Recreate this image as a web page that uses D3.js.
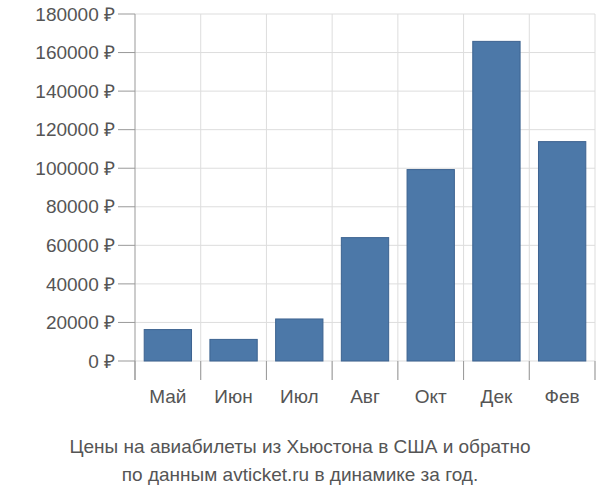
<!DOCTYPE html>
<html><head><meta charset="utf-8">
<script src="https://cdn.jsdelivr.net/npm/d3@7"></script>
<style>body{margin:0;background:#fff}text{font-family:"Liberation Sans",Arial,sans-serif;fill:#555}</style>
</head><body><svg id="c" width="600" height="500"></svg>
<script>
const months = ["Май","Июн","Июл","Авг","Окт","Дек","Фев"];
const prices = [16300, 11200, 21800, 64000, 99300, 165800, 113800];
const yTicks = [0,20000,40000,60000,80000,100000,120000,140000,160000,180000];
const titleLines = ["Цены на авиабилеты из Хьюстона в США и обратно","по данным avticket.ru в динамике за год."];

const svg = d3.select("#c");
const L = 135, R = 595, T = 14, B = 361;
const x = d3.scaleBand().domain(months).range([L, R]).paddingInner(0.28).paddingOuter(0.14);
const y = d3.scaleLinear().domain([0, 180000]).range([B, T]);
const step = x.step(), edges = d3.range(months.length + 1).map(i => L + i * (R - L) / months.length);

// grid
svg.append("g").selectAll("line").data(yTicks).join("line")
  .attr("x1", L).attr("x2", R).attr("y1", d => y(d)).attr("y2", d => y(d))
  .attr("stroke", "#ddd");
svg.append("g").selectAll("line").data(edges).join("line")
  .attr("x1", d => d).attr("x2", d => d).attr("y1", T).attr("y2", 380)
  .attr("stroke", (d, i) => i === 0 ? "#999" : "#ddd");
svg.append("g").selectAll("line").data(edges).join("line")
  .attr("x1", d => d).attr("x2", d => d).attr("y1", B).attr("y2", 380).attr("stroke", "#999");

// y ticks
svg.append("g").selectAll("line").data(yTicks).join("line")
  .attr("x1", 118).attr("x2", L).attr("y1", d => y(d)).attr("y2", d => y(d)).attr("stroke", "#999");
svg.append("g").selectAll("text").data(yTicks).join("text")
  .attr("x", 115).attr("y", d => y(d)).attr("dy", "0.35em").attr("text-anchor", "end")
  .attr("font-size", 19).text(d => d + " ₽");

// bars
svg.append("g").selectAll("rect").data(prices).join("rect")
  .attr("x", (d, i) => x(months[i])).attr("width", x.bandwidth())
  .attr("y", d => y(d)).attr("height", d => B - y(d))
  .attr("fill", "#4c78a8").attr("stroke", "#3d6390");

// x labels
svg.append("g").selectAll("text").data(months).join("text")
  .attr("x", d => x(d) + x.bandwidth() / 2).attr("y", 403).attr("text-anchor", "middle")
  .attr("font-size", 19).text(d => d);

svg.append("g").selectAll("text").data(titleLines).join("text")
  .attr("x", 300).attr("y", (d, i) => 453 + i * 28).attr("text-anchor", "middle")
  .attr("font-size", 19).text(d => d);
</script></body></html>
